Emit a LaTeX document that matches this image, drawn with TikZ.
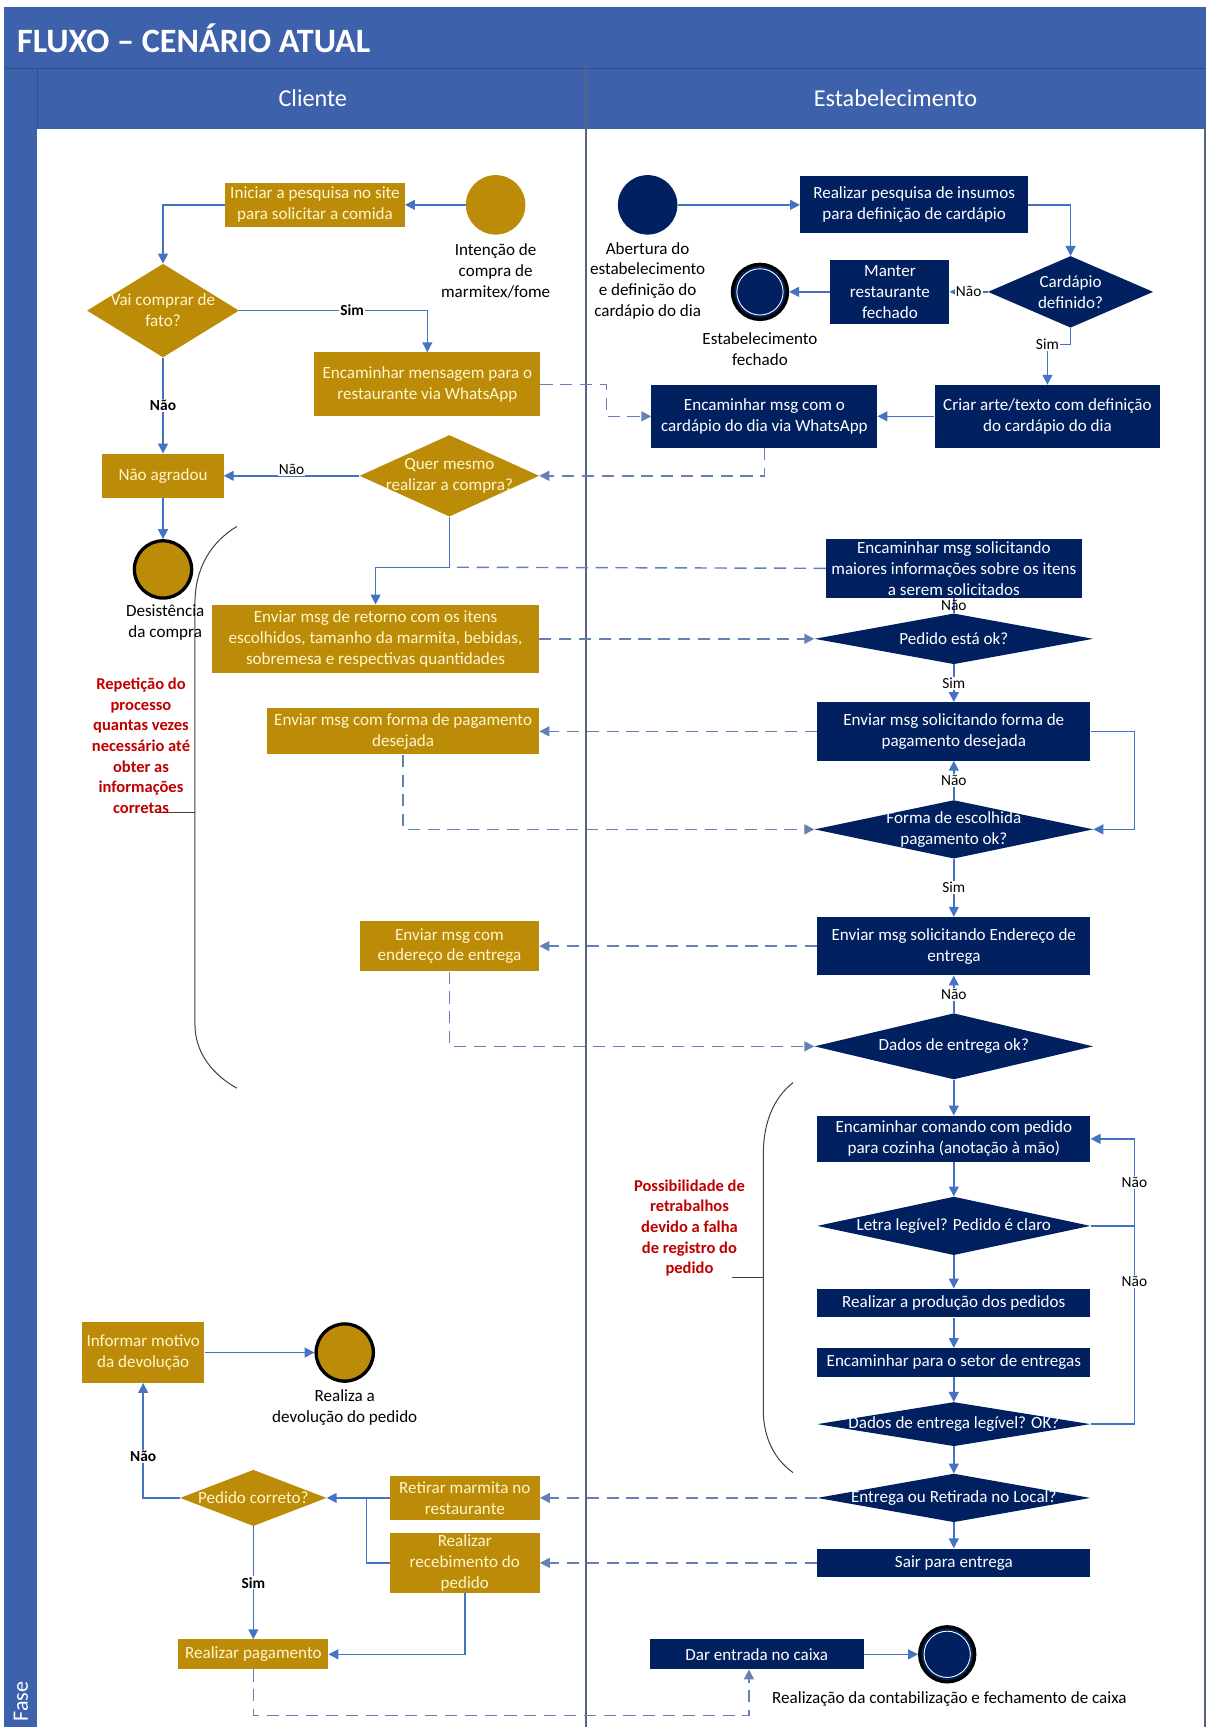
\documentclass[tikz,border=0pt]{standalone}
\usepackage{fontspec}
\setmainfont{Carlito}
\usetikzlibrary{shapes.geometric,arrows.meta}
\definecolor{faixa}{RGB}{62,97,172}
\definecolor{faixaesc}{RGB}{48,78,142}
\definecolor{ouro}{RGB}{188,140,8}
\definecolor{ourotxt}{RGB}{255,246,205}
\definecolor{marinho}{RGB}{0,32,96}
\definecolor{seta}{RGB}{68,114,196}
\definecolor{tracejado}{RGB}{100,128,180}
\definecolor{raia}{RGB}{85,100,130}
\definecolor{vermelho}{RGB}{192,0,0}
\newcommand{\bxfont}{\fontsize{15.5}{19}\selectfont}
\newcommand{\lbfont}{\fontsize{14}{17}\selectfont}
\newcommand{\rdfont}{\fontsize{15}{18.7}\selectfont\bfseries}

\begin{document}
\begin{tikzpicture}[x=1pt,y=-1pt,
  cbox/.style={rectangle,fill=ouro,text=ourotxt,align=center,inner sep=1pt,font=\bxfont},
  ebox/.style={rectangle,fill=marinho,text=white,align=center,inner sep=1pt,font=\bxfont},
  ctxt/.style={text=ourotxt,align=center,font=\bxfont},
  etxt/.style={text=white,align=center,font=\bxfont},
  cdec/.style={diamond,fill=ouro,inner sep=0pt},
  edec/.style={diamond,fill=marinho,inner sep=0pt},
  cini/.style={circle,fill=ouro,inner sep=0pt,minimum size=54pt},
  eini/.style={circle,fill=marinho,inner sep=0pt,minimum size=54pt},
  cfim/.style={circle,fill=ouro,draw=black,line width=3pt,inner sep=0pt,minimum size=52pt},
  efim/.style={circle,fill=marinho,draw=black,line width=3pt,inner sep=0pt,minimum size=50pt,
    path picture={\draw[white,line width=0.8pt] (path picture bounding box.center) circle (21pt);}},
  legenda/.style={align=center,font=\bxfont,text=black},
  fluxo/.style={draw=seta,line width=1.3pt,-{Triangle[length=9pt,width=9pt]}},
  msg/.style={draw=tracejado,line width=1.3pt,dash pattern=on 11pt off 7pt,-{Triangle[length=9pt,width=9pt]}},
  rot/.style={fill=white,inner sep=1pt,font=\lbfont},
  rotb/.style={rot,font=\lbfont\bfseries},
  aviso/.style={text=vermelho,align=center,font=\rdfont},
  chave/.style={draw=black!75,line width=0.9pt}]

\useasboundingbox (0,0) rectangle (1097,1568);
\fill[white] (0,0) rectangle (1097,1568);
\fill[faixa] (4,6) rectangle (1095,117);
\fill[faixa] (4,117) rectangle (34,1568);
\draw[faixaesc,line width=1pt] (4,62) -- (1095,62);
\draw[faixaesc,line width=1pt] (34,62) -- (34,117);
\draw[raia,line width=1.2pt] (532,62) -- (532,1568);
\draw[raia,line width=1.2pt] (1094,117) -- (1094,1568);

\node[anchor=west,text=white,font=\fontsize{31}{34}\selectfont\bfseries] (titulo) at (12,35) {FLUXO – CENÁRIO ATUAL};
\node[text=white,font=\fontsize{22}{26}\selectfont] (hcli) at (284,89) {Cliente};
\node[text=white,font=\fontsize{22}{26}\selectfont] (hest) at (813,89) {Estabelecimento};
\node[rotate=90,text=white,font=\fontsize{20}{23}\selectfont] (fase) at (19,1545) {Fase};

\draw[chave] (215,478) .. controls (192,492) and (177,515) .. (177,548) -- (177,930) .. controls (177,955) and (192,975) .. (215,988);
\draw[chave] (177,738) -- (143,738);
\draw[chave] (720,983) .. controls (702,997) and (693,1020) .. (693,1048) -- (693,1280) .. controls (693,1305) and (703,1325) .. (720,1337);
\draw[chave] (693,1160) -- (665,1160);

\node[aviso] (repeticao) at (128,677) {Repetição do\\processo\\quantas vezes\\necessário até\\obter as\\informações\\corretas};
\node[aviso] (retrabalho) at (626,1115) {Possibilidade de\\retrabalhos\\devido a falha\\de registro do\\pedido};

\node[cini] (intencao) at (450,186) {};
\node[legenda] (lintencao) at (450,246) {Intenção de\\compra de\\marmitex/fome};
\node[cbox,minimum width=163pt,minimum height=40pt] (iniciar) at (286,186) {Iniciar a pesquisa no site\\para solicitar a comida};
\node[cdec,minimum width=138pt,minimum height=85pt,label={[ctxt]center:{Vai comprar de\\fato?}}] (vai) at (148,282) {};
\node[cbox,minimum width=205pt,minimum height=58pt] (encmsg) at (388,349) {Encaminhar mensagem para o\\restaurante via WhatsApp};
\node[cbox,minimum width=110pt,minimum height=40pt] (naoagr) at (148,432) {Não agradou};
\node[cdec,minimum width=163pt,minimum height=74pt,label={[ctxt]center:{Quer mesmo\\realizar a compra?}}] (quer) at (408,432) {};
\node[cfim] (desist) at (148,517) {};
\node[legenda] (ldesist) at (150,565) {Desistência\\da compra};
\node[cbox,minimum width=297pt,minimum height=62pt] (retorno) at (341,580) {Enviar msg de retorno com os itens\\escolhidos, tamanho da marmita, bebidas,\\sobremesa e respectivas quantidades};
\node[cbox,minimum width=247pt,minimum height=42pt] (forma) at (366,664) {Enviar msg com forma de pagamento\\desejada};
\node[cbox,minimum width=163pt,minimum height=46pt] (endcli) at (408,859) {Enviar msg com\\endereço de entrega};
\node[cbox,minimum width=111pt,minimum height=55pt] (informar) at (130,1228) {Informar motivo\\da devolução};
\node[cfim] (devol) at (313,1228) {};
\node[legenda] (ldevol) at (313,1278) {Realiza a\\devolução do pedido};
\node[cdec,minimum width=133pt,minimum height=51pt,label={[ctxt]center:{Pedido correto?}}] (correto) at (230,1360) {};
\node[cbox,minimum width=136pt,minimum height=40pt] (retirar) at (422,1360) {Retirar marmita no\\restaurante};
\node[cbox,minimum width=136pt,minimum height=54pt] (receb) at (422,1419) {Realizar\\recebimento do\\pedido};
\node[cbox,minimum width=136pt,minimum height=27pt] (pagar) at (230,1502) {Realizar pagamento};

\node[eini] (abert) at (588,186) {};
\node[legenda] (labert) at (588,255) {Abertura do\\estabelecimento\\e definição do\\cardápio do dia};
\node[ebox,minimum width=207pt,minimum height=52pt] (pesq) at (830,186) {Realizar pesquisa de insumos\\para definição de cardápio};
\node[edec,minimum width=150pt,minimum height=65pt,label={[etxt]center:{Cardápio\\definido?}}] (cardap) at (972,265) {};
\node[ebox,minimum width=108pt,minimum height=58pt] (manter) at (808,265) {Manter\\restaurante\\fechado};
\node[efim] (fechado) at (690,265) {};
\node[legenda] (lfechado) at (690,317) {Estabelecimento\\fechado};
\node[ebox,minimum width=205pt,minimum height=57pt] (criar) at (951,378) {Criar arte/texto com definição\\do cardápio do dia};
\node[ebox,minimum width=205pt,minimum height=57pt] (enccard) at (694,378) {Encaminhar msg com o\\cardápio do dia via WhatsApp};
\node[ebox,minimum width=232pt,minimum height=54pt] (maiores) at (866,516) {Encaminhar msg solicitando\\maiores informações sobre os itens\\a serem solicitados};
\node[edec,minimum width=253pt,minimum height=46pt,label={[etxt]center:{Pedido está ok?}}] (pedok) at (866,580) {};
\node[ebox,minimum width=248pt,minimum height=53pt] (solforma) at (866,664) {Enviar msg solicitando forma de\\pagamento desejada};
\node[edec,minimum width=253pt,minimum height=53pt,label={[etxt]center:{Forma de escolhida\\pagamento ok?}}] (formaok) at (866,753) {};
\node[ebox,minimum width=248pt,minimum height=53pt] (solend) at (866,859) {Enviar msg solicitando Endereço de\\entrega};
\node[edec,minimum width=253pt,minimum height=60pt,label={[etxt]center:{Dados de entrega ok?}}] (dadosok) at (866,950) {};
\node[ebox,minimum width=248pt,minimum height=42pt] (comanda) at (866,1034) {Encaminhar comando com pedido\\para cozinha (anotação à mão)};
\node[edec,minimum width=248pt,minimum height=53pt,label={[etxt]center:{Letra legível? Pedido é claro}}] (letra) at (866,1113) {};
\node[ebox,minimum width=248pt,minimum height=26pt] (producao) at (866,1183) {Realizar a produção dos pedidos};
\node[ebox,minimum width=248pt,minimum height=26pt] (setor) at (866,1237) {Encaminhar para o setor de entregas};
\node[edec,minimum width=248pt,minimum height=40pt,label={[etxt]center:{Dados de entrega legível? OK?}}] (legivel) at (866,1293) {};
\node[edec,minimum width=248pt,minimum height=44pt,label={[etxt]center:{Entrega ou Retirada no Local?}}] (entrega) at (866,1360) {};
\node[ebox,minimum width=248pt,minimum height=26pt] (sair) at (866,1419) {Sair para entrega};
\node[ebox,minimum width=194pt,minimum height=27pt] (caixa) at (687,1502) {Dar entrada no caixa};
\node[efim] (fim) at (860,1502) {};
\node[legenda] (lfim) at (862,1543) {Realização da contabilização e fechamento de caixa};

\coordinate (jq) at (408,515);
\coordinate (jl) at (1030,1113);
\coordinate (jr) at (333,1360);

\draw[fluxo] (intencao) -- (iniciar);
\draw[fluxo] (iniciar.west) -| (vai.north);
\draw[fluxo] (vai.east) -| node[rotb,pos=0.3] {Sim} (encmsg.north);
\draw[fluxo] (vai.south) -- node[rotb] {Não} (naoagr.north);
\draw[msg] (encmsg.east) -- ++(60,0) |- (enccard.west);
\draw[msg] (enccard.south) |- (quer.east);
\draw[fluxo] (quer.west) -- node[rot,above=-1pt] {Não} (naoagr.east);
\draw[fluxo] (naoagr.south) -- (desist.north);
\draw[fluxo] (quer.south) -- (jq) -| (retorno.north);
\draw[msg,-] (maiores.west) -- (jq);
\draw[msg] (retorno.east) -- (pedok.west);
\draw[fluxo,-] (pedok.north) -- node[font=\lbfont,inner sep=0pt] {Não} (maiores.south);
\draw[fluxo] (pedok.south) -- node[rot] {Sim} (solforma.north);
\draw[msg] (solforma.west) -- (forma.east);
\draw[msg] (forma.south) |- (formaok.west);
\draw[fluxo] (solforma.east) -- ++(40,0) |- (formaok.east);
\draw[fluxo] (formaok.north) -- node[rot] {Não} (solforma.south);
\draw[fluxo] (formaok.south) -- node[rot] {Sim} (solend.north);
\draw[msg] (solend.west) -- (endcli.east);
\draw[msg] (endcli.south) |- (dadosok.west);
\draw[fluxo] (dadosok.north) -- node[rot] {Não} (solend.south);
\draw[fluxo] (dadosok.south) -- (comanda.north);
\draw[fluxo] (comanda.south) -- (letra.north);
\draw[fluxo] (letra.east) -- (jl) |- node[rot,pos=0.25] {Não} (comanda.east);
\draw[fluxo] (letra.south) -- (producao.north);
\draw[fluxo] (producao.south) -- (setor.north);
\draw[fluxo] (setor.south) -- (legivel.north);
\draw[fluxo,-] (legivel.east) -| node[rot,pos=0.86] {Não} (jl);
\draw[fluxo] (legivel.south) -- (entrega.north);
\draw[msg] (entrega.west) -- (retirar.east);
\draw[fluxo] (entrega.south) -- (sair.north);
\draw[msg] (sair.west) -- (receb.east);
\draw[fluxo] (retirar.west) -- (correto.east);
\draw[fluxo,-] (receb.west) -| (jr);
\draw[fluxo] (receb.south) |- (pagar.east);
\draw[fluxo] (correto.west) -| node[rotb,pos=0.68] {Não} (informar.south);
\draw[fluxo] (informar.east) -- (devol.west);
\draw[fluxo] (correto.south) -- node[rotb] {Sim} (pagar.north);
\draw[msg] (pagar.south) -- ++(0,42) -| ([xshift=-7pt]caixa.south);
\draw[fluxo] (caixa.east) -- (fim.west);
\draw[fluxo] (abert) -- (pesq);
\draw[fluxo] (pesq.east) -| (cardap.north);
\draw[fluxo] (cardap.west) -- node[rot] {Não} (manter.east);
\draw[fluxo] (manter.west) -- (fechado.east);
\draw[fluxo] (cardap.south) -- ++(0,15) -| node[rot,pos=0.5] {Sim} (criar.north);
\draw[fluxo] (criar.west) -- (enccard.east);
\end{tikzpicture}
\end{document}
